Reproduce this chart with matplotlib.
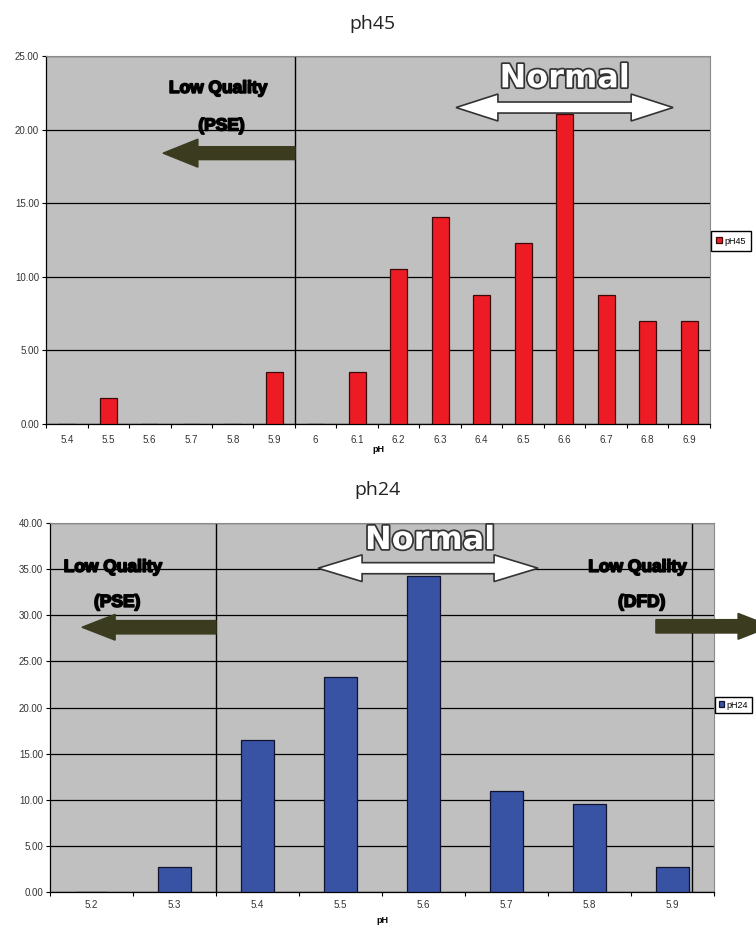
import numpy as np
import matplotlib.pyplot as plt
import matplotlib.patheffects as pe
from matplotlib.patches import FancyArrow, Polygon
from matplotlib.ticker import FormatStrFormatter

# ph45 数据 (%)
ph45_cats = ['5.4', '5.5', '5.6', '5.7', '5.8', '5.9', '6', '6.1',
             '6.2', '6.3', '6.4', '6.5', '6.6', '6.7', '6.8', '6.9']
ph45_vals = [0, 1.75, 0, 0, 0, 3.51, 0, 3.51,
             10.53, 14.04, 8.77, 12.28, 21.05, 8.77, 7.02, 7.02]

# ph24 数据 (%)
ph24_cats = ['5.2', '5.3', '5.4', '5.5', '5.6', '5.7', '5.8', '5.9']
ph24_vals = [0, 2.74, 16.44, 23.29, 34.25, 10.96, 9.59, 2.74]

W, H = 756, 931
fig = plt.figure(figsize=(W / 100, H / 100), dpi=100)

olive = '#3b3b1f'
tick_font = ['Liberation Sans', 'DejaVu Sans']
bold_font = ['Liberation Sans Narrow', 'Liberation Sans', 'DejaVu Sans']


def px_axes(left, top, right, bottom):
    return fig.add_axes([left / W, 1 - bottom / H, (right - left) / W, (bottom - top) / H])


def setup(ax, cats, vals, color, edge, label, ymax, pad):
    x = np.arange(len(cats))
    ax.set_facecolor('#c0c0c0')
    ax.bar(x, vals, width=0.4, color=color, edgecolor=edge, linewidth=0.9,
           label=label, zorder=3)
    ax.set_xlim(-0.5, len(cats) - 0.5)
    ax.set_ylim(0, ymax)
    ax.set_yticks(np.arange(0, ymax + 1, 5))
    ax.yaxis.set_major_formatter(FormatStrFormatter('%.2f'))
    ax.yaxis.grid(True, color='black', linewidth=0.9)
    ax.set_axisbelow(True)
    # 类别之间的刻度 + 居中标签
    ax.set_xticks(np.arange(len(cats) + 1) - 0.5)
    ax.set_xticklabels([])
    ax.set_xticks(x, minor=True)
    ax.set_xticklabels(cats, minor=True)
    ax.tick_params(axis='x', which='major', length=3, width=0.8)
    ax.tick_params(axis='x', which='minor', length=0, pad=pad)
    ax.tick_params(axis='y', length=3, width=0.8, pad=2)
    for t in ax.get_xticklabels(minor=True) + ax.get_yticklabels():
        t.set_fontsize(7)
        t.set_family(tick_font)
        t.set_color('#333333')
    for s in ('top', 'right'):
        ax.spines[s].set_color('#8a8a8a')
    for s in ('left', 'bottom'):
        ax.spines[s].set_color('black')
        ax.spines[s].set_linewidth(0.9)


def double_arrow(ax, x0, x1, y, w, hw, hl):
    pts = [(x0, y), (x0 + hl, y + hw / 2), (x0 + hl, y + w / 2), (x1 - hl, y + w / 2),
           (x1 - hl, y + hw / 2), (x1, y), (x1 - hl, y - hw / 2), (x1 - hl, y - w / 2),
           (x0 + hl, y - w / 2), (x0 + hl, y - hw / 2)]
    ax.add_patch(Polygon(pts, closed=True, facecolor='white', edgecolor='#333333',
                         linewidth=1.2, zorder=5, clip_on=False))


def label_text(ax, x, y, s):
    ax.text(x, y, s, ha='center', va='center', fontsize=12.5, fontweight='bold',
            family=bold_font, color='black', zorder=6,
            path_effects=[pe.withStroke(linewidth=1.2, foreground='black')])


def normal_text(ax, x, y):
    ax.text(x, y, 'Normal', ha='center', va='center', fontsize=23, fontweight='bold',
            family='DejaVu Sans', color='white', zorder=6,
            path_effects=[pe.withStroke(linewidth=2.5, foreground='#333333')])


# ---------- ph45 ----------
ax1 = px_axes(46, 56, 710, 424)
setup(ax1, ph45_cats, ph45_vals, '#ed1c24', '#3a0a0a', 'pH45', 25, 8)
ax1.set_xlabel('pH', fontsize=6.5, fontweight='bold', family=tick_font, labelpad=0)
ax1.axvline(5.5, color='black', linewidth=1, zorder=2)
ax1.add_patch(FancyArrow(5.5, 18.4, -3.18, 0, width=0.88, head_width=1.9, head_length=0.84,
                         length_includes_head=True, color=olive, zorder=5))
label_text(ax1, 3.65, 22.8, 'Low Quality')
label_text(ax1, 3.73, 20.25, '(PSE)')
double_arrow(ax1, 9.38, 14.61, 21.5, 0.75, 1.83, 1.01)
normal_text(ax1, 12.0, 23.45)
ax1.legend(loc='center left', bbox_to_anchor=(711 / W, 1 - 241 / H),
           bbox_transform=fig.transFigure, frameon=True, fancybox=False,
           edgecolor='black', framealpha=1, handlelength=0.6, handleheight=0.6,
           handletextpad=0.3, borderpad=0.6, borderaxespad=0,
           prop={'family': tick_font, 'size': 6.5})
fig.text(372 / W, 1 - 24 / H, 'ph45', ha='center', va='center', fontsize=14,
         family=['Open Sans', 'DejaVu Sans'], color='#222222')

# ---------- ph24 ----------
ax2 = px_axes(50, 523, 714, 892)
setup(ax2, ph24_cats, ph24_vals, '#3953a4', '#10122e', 'pH24', 40, 6)
ax2.set_xlabel('pH', fontsize=6.5, fontweight='bold', family=tick_font, labelpad=4)
ax2.axvline(1.5, color='black', linewidth=1, zorder=2)
ax2.axvline(7.235, color='black', linewidth=1, zorder=2)
ax2.add_patch(FancyArrow(1.5, 28.7, -1.615, 0, width=1.45, head_width=2.8, head_length=0.4,
                         length_includes_head=True, color=olive, zorder=5))
ax2.add_patch(FancyArrow(6.8, 28.8, 1.39, 0, width=1.45, head_width=2.8, head_length=0.4,
                         length_includes_head=True, color=olive, zorder=5, clip_on=False))
label_text(ax2, 0.26, 35.2, 'Low Quality')
label_text(ax2, 0.31, 31.4, '(PSE)')
label_text(ax2, 6.58, 35.2, 'Low Quality')
label_text(ax2, 6.63, 31.4, '(DFD)')
double_arrow(ax2, 2.73, 5.38, 35.1, 1.2, 2.9, 0.53)
normal_text(ax2, 4.08, 38.1)
ax2.legend(loc='center left', bbox_to_anchor=(715 / W, 1 - 705 / H),
           bbox_transform=fig.transFigure, frameon=True, fancybox=False,
           edgecolor='black', framealpha=1, handlelength=0.6, handleheight=0.6,
           handletextpad=0.3, borderpad=0.4, borderaxespad=0,
           prop={'family': tick_font, 'size': 6.5})
fig.text(378 / W, 1 - 490 / H, 'ph24', ha='center', va='center', fontsize=14,
         family=['Open Sans', 'DejaVu Sans'], color='#222222')

fig.savefig('out.png', dpi=100)
